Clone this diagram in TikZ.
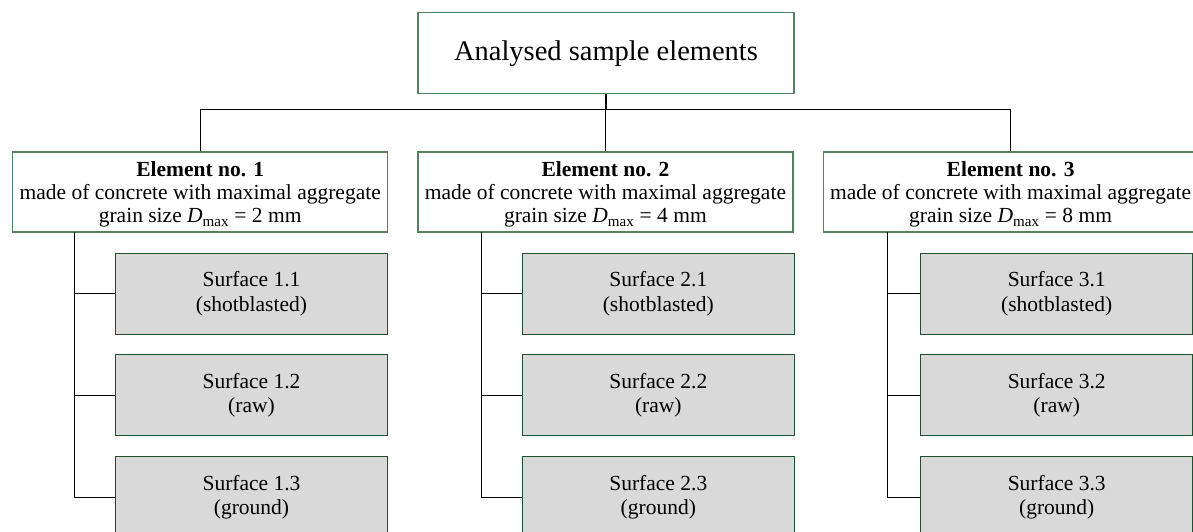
\documentclass[tikz,border=0pt]{standalone}
\usepackage{fontspec}
\setmainfont{Liberation Serif}
\definecolor{frameline}{HTML}{54825E}
\definecolor{surfline}{HTML}{1E502D}
\definecolor{surffill}{HTML}{D9D9D9}
\tikzset{
  rootbox/.style={draw=frameline, line width=1.2pt, fill=white, minimum width=376pt,
    minimum height=81pt, inner sep=0pt, font=\fontsize{28.5}{32}\selectfont},
  elembox/.style={draw=frameline, line width=1.2pt, fill=white, minimum width=375pt,
    minimum height=80pt, inner sep=0pt, align=center, font=\fontsize{21.5}{23.3}\selectfont},
  elemtext/.style={inner sep=0pt, align=center, font=\fontsize{21.5}{23.3}\selectfont},
  surfbox/.style={draw=surfline, line width=1.2pt, fill=surffill, minimum width=272pt,
    minimum height=81pt, inner sep=0pt, align=center, font=\fontsize{21.5}{24.6}\selectfont},
  link/.style={draw=black, line width=1.2pt},
}
\begin{document}
\begin{tikzpicture}[x=1pt, y=-1pt]
\useasboundingbox (0,0) rectangle (1193,532);
\clip (0,0) rectangle (1193,532);

% root
\node[rootbox] (top) at (606,53.3) {Analysed sample elements};

% elements: frame and its three-line caption
\foreach \k/\x/\d in {1/200.2/2, 2/605.4/4, 3/1010.6/8}{
  \node[elembox] (e\k) at (\x,192) {};
  \node[elemtext] (t\k) at (\x,194.5) {\textbf{Element no. \k}\\made of concrete with maximal aggregate\\grain size \textit{D}\textsubscript{max} = \d\ mm};
}

% surfaces
\node[surfbox] (s11) at (251.5,293.8) {Surface 1.1\\(shotblasted)};
\node[surfbox] (s12) at (251.5,395.3) {Surface 1.2\\(raw)};
\node[surfbox] (s13) at (251.5,497.2) {Surface 1.3\\(ground)};
\node[surfbox] (s21) at (658.3,293.8) {Surface 2.1\\(shotblasted)};
\node[surfbox] (s22) at (658.3,395.3) {Surface 2.2\\(raw)};
\node[surfbox] (s23) at (658.3,497.2) {Surface 2.3\\(ground)};
\node[surfbox] (s31) at (1056.7,293.8) {Surface 3.1\\(shotblasted)};
\node[surfbox] (s32) at (1056.7,395.3) {Surface 3.2\\(raw)};
\node[surfbox] (s33) at (1056.7,497.2) {Surface 3.3\\(ground)};

% branch bar below the root
\coordinate (bar) at (0,109.3);
\draw[link] (top.south) -- (top.south |- bar);
\draw[link] (e1.north) -- (e1.north |- bar) -- (e3.north |- bar) -- (e3.north);
\draw[link] (e2.north) -- (e2.north |- bar);

% spines from each element down to its surfaces
\coordinate (sp1) at (74.3,232);
\coordinate (sp2) at (481.7,232);
\coordinate (sp3) at (887.7,232);
\foreach \i in {1,2,3}{
  \draw[link] (sp\i) |- (s\i3.west);
  \draw[link] (sp\i |- s\i1.west) -- (s\i1.west);
  \draw[link] (sp\i |- s\i2.west) -- (s\i2.west);
}
\end{tikzpicture}
\end{document}
